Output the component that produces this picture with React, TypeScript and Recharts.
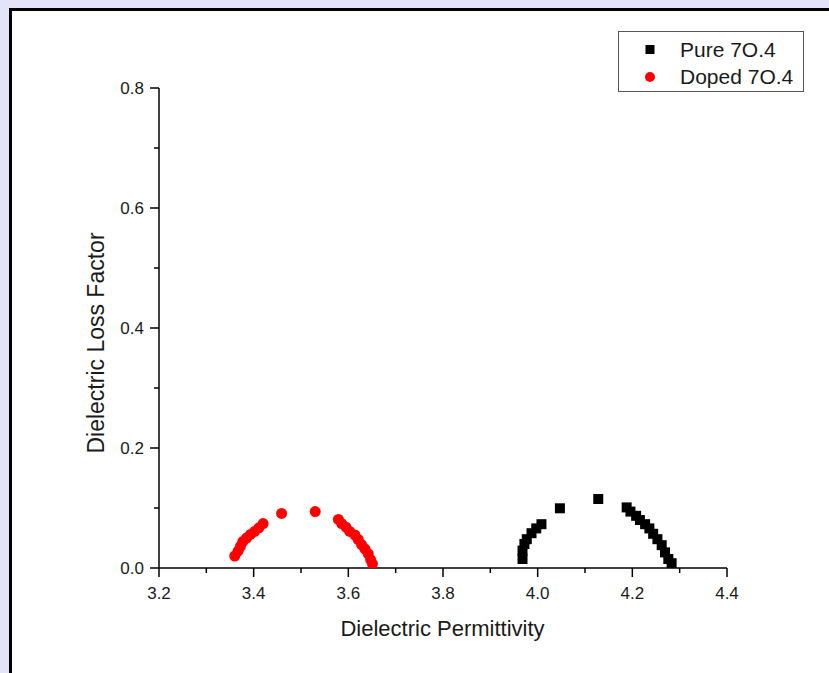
import { ScatterChart, Scatter, XAxis, YAxis } from 'recharts';

// Pure 7O.4 (black squares)
const pureX = [3.968, 3.968, 3.972, 3.977, 3.987, 3.997, 4.008, 4.047, 4.128, 4.188, 4.196, 4.208, 4.216, 4.227, 4.236, 4.244, 4.253, 4.262, 4.269, 4.276, 4.283];
const pureY = [0.015, 0.029, 0.040, 0.048, 0.058, 0.066, 0.073, 0.0995, 0.115, 0.101, 0.094, 0.087, 0.080, 0.073, 0.066, 0.057, 0.048, 0.038, 0.026, 0.015, 0.008];

// Doped 7O.4 (red circles)
const dopedX = [3.360, 3.367, 3.372, 3.377, 3.385, 3.393, 3.402, 3.411, 3.420, 3.459, 3.530, 3.579, 3.586, 3.595, 3.603, 3.614, 3.621, 3.628, 3.635, 3.642, 3.647, 3.651];
const dopedY = [0.020, 0.028, 0.036, 0.044, 0.050, 0.056, 0.061, 0.067, 0.074, 0.091, 0.094, 0.081, 0.074, 0.068, 0.061, 0.055, 0.0475, 0.039, 0.032, 0.024, 0.014, 0.007];

const xTicks = [3.2, 3.3, 3.4, 3.5, 3.6, 3.7, 3.8, 3.9, 4.0, 4.1, 4.2, 4.3, 4.4];
const yTicks = [0, 0.1, 0.2, 0.3, 0.4, 0.5, 0.6, 0.7, 0.8];

const seriesNames = ['Pure 7O.4', 'Doped 7O.4'];

const pureData = pureX.map((x, i) => ({ x, y: pureY[i] }));
const dopedData = dopedX.map((x, i) => ({ x, y: dopedY[i] }));

const FONT = "'Liberation Sans', Arial, sans-serif";
const TEXT = '#1a1a1a';

const isMajor = (v: number) => Math.round(v * 10) % 2 === 0;

const XTick = ({ x, y, payload }: any) => {
    const major = isMajor(payload.value);
    return (
        <g>
            <line x1={x} x2={x} y1={y} y2={y + (major ? 9 : 5)} stroke="#000" strokeWidth={1.5} />
            {major && (
                <text x={x} y={y + 31} textAnchor="middle" fontSize={17} fontFamily={FONT} fill={TEXT}>
                    {payload.value.toFixed(1)}
                </text>
            )}
        </g>
    );
};

const YTick = ({ x, y, payload }: any) => {
    const major = isMajor(payload.value);
    return (
        <g>
            <line x1={x} x2={x - (major ? 9 : 5)} y1={y} y2={y} stroke="#000" strokeWidth={1.5} />
            {major && (
                <text x={x - 15} y={y + 6} textAnchor="end" fontSize={17} fontFamily={FONT} fill={TEXT}>
                    {payload.value.toFixed(1)}
                </text>
            )}
        </g>
    );
};

const SquareDot = (p: any) => (
    <rect x={p.cx - 5} y={p.cy - 5} width={10} height={10} fill="#000" />
);

const RedDot = (p: any) => (
    <circle cx={p.cx} cy={p.cy} r={5.5} fill="#ff0000" />
);

export default function App() {
    return (
        <div style={{ position: 'fixed', left: 0, top: 0, width: 829, height: 673, overflow: 'hidden', background: '#e3e4f7' }}>
            <div style={{ position: 'absolute', left: 9, top: 8, width: 900, height: 720, background: '#fff', borderLeft: '3px solid #000', borderTop: '3px solid #000' }} />
            <div style={{ position: 'absolute', left: 0, top: 0 }}>
                <ScatterChart width={829} height={673} margin={{ top: 88, right: 102, bottom: 65, left: 99 }}>
                    <XAxis
                        type="number"
                        dataKey="x"
                        domain={[3.2, 4.4]}
                        ticks={xTicks}
                        interval={0}
                        height={40}
                        tickSize={0}
                        tickMargin={0}
                        tickLine={false}
                        axisLine={{ stroke: '#000', strokeWidth: 1.5 }}
                        tick={XTick}
                        allowDataOverflow
                        label={{ value: 'Dielectric Permittivity', position: 'bottom', content: () => (
                            <text x={442.5} y={636} textAnchor="middle" fontSize={22} fontFamily={FONT} fill={TEXT}>Dielectric Permittivity</text>
                        ) }}
                    />
                    <YAxis
                        type="number"
                        dataKey="y"
                        domain={[0, 0.8]}
                        ticks={yTicks}
                        interval={0}
                        width={60}
                        tickSize={0}
                        tickMargin={0}
                        tickLine={false}
                        axisLine={{ stroke: '#000', strokeWidth: 1.5 }}
                        tick={YTick}
                        allowDataOverflow
                        label={{ value: 'Dielectric Loss Factor', content: () => (
                            <text x={104} y={343} transform="rotate(-90 104 343)" textAnchor="middle" fontSize={23} fontFamily={FONT} fill={TEXT}>Dielectric Loss Factor</text>
                        ) }}
                    />
                    <Scatter name={seriesNames[0]} data={pureData} shape={SquareDot} isAnimationActive={false} />
                    <Scatter name={seriesNames[1]} data={dopedData} shape={RedDot} isAnimationActive={false} />
                </ScatterChart>
            </div>
            <svg style={{ position: 'absolute', left: 618, top: 31 }} width={187} height={63}>
                <rect x={0.5} y={0.5} width={185} height={60} fill="#fff" stroke="#555" strokeWidth={1} />
                <rect x={27.5} y={14} width={9} height={9} fill="#000" />
                <circle cx={32} cy={46} r={5} fill="#ff0000" />
                <text x={62} y={25.5} fontSize={21} fontFamily={FONT} fill={TEXT}>{seriesNames[0]}</text>
                <text x={62} y={52.5} fontSize={21} fontFamily={FONT} fill={TEXT}>{seriesNames[1]}</text>
            </svg>
        </div>
    );
}
